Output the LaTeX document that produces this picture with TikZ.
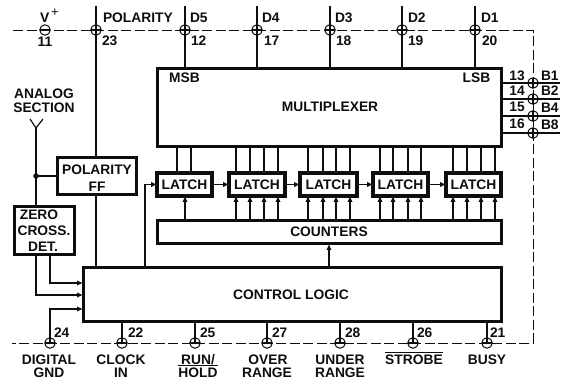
\documentclass[tikz,border=0pt]{standalone}
\usepackage{fontspec}
\setmainfont{Liberation Sans}
\usetikzlibrary{arrows.meta}
\definecolor{ink}{HTML}{0E0E0E}
\tikzset{
  x=1pt,y=-1pt,
  every node/.style={text=ink,font=\fontsize{13.8}{14}\selectfont\bfseries,inner sep=0pt,outer sep=0pt},
  box/.style={draw=ink,line width=3pt,fill=white,anchor=center},
  latchbox/.style={draw=ink,line width=3.4pt,fill=white,anchor=center},
  wire/.style={draw=ink,line width=1.2pt},
  awire/.style={wire,-{Latex[length=6pt,width=5.5pt]}},
  dashbound/.style={draw=ink,line width=0.9pt,dash pattern=on 10pt off 3.5pt},
  pinc/.style={circle,draw=ink,line width=1pt,minimum size=10.5pt,fill=white},
  lab/.style={anchor=center},
  labl/.style={anchor=west},
}
% name, x1, y1, x2, y2, text (edge-to-edge centre-line rectangle)
\newcommand{\blk}[7][box]{\node[#1,minimum width={(#4-#2)*1pt},minimum height={(#5-#3)*1pt}] (#6) at ({(#2+#4)/2},{(#3+#5)/2}) {#7};}
\newcommand{\pincross}[1]{\draw[wire] (#1.west) -- (#1.east);}
\newcommand{\barred}[1]{$\overline{\mbox{\rule{0pt}{10.6pt}#1}}$}
\begin{document}
\begin{tikzpicture}
\useasboundingbox[fill=white] (0,0) rectangle (566,379);
% dashed package outline
\coordinate (tl) at (13,30);
\coordinate (tr) at (533,30);
\coordinate (br) at (533,343);
\coordinate (bl) at (12,343);
\draw[dashbound] (tl) -- (tr) -- (br) -- (bl);
% blocks
\blk{157}{69}{501}{147}{mux}{}
\blk{157}{221}{501}{244}{cnt}{}
\blk{83}{268}{501}{322}{ctl}{}
\blk{57}{158}{136}{195}{pff}{}
\blk{14}{207}{74}{255}{zcd}{}
\blk[latchbox]{157}{173}{212}{196}{la}{LATCH}
\blk[latchbox]{229}{173}{285}{196}{lb}{LATCH}
\blk[latchbox]{300}{173}{357}{196}{lc}{LATCH}
\blk[latchbox]{373}{173}{428}{196}{ld}{LATCH}
\blk[latchbox]{446}{173}{501}{196}{le}{LATCH}
% block texts
\node[lab] (tmux) at (330,107) {MULTIPLEXER};
\node[lab] (tmsb) at (184.5,77.5) {MSB};
\node[lab] (tlsb) at (476.5,77.5) {LSB};
\node[lab] (tcnt) at (329,232) {COUNTERS};
\node[lab] (tctl) at (291,295) {CONTROL LOGIC};
\node[lab] (tpf1) at (97,170) {POLARITY};
\node[lab] (tpf2) at (97,187) {FF};
\node[lab] (tz1) at (39,215) {ZERO};
\node[lab] (tz2) at (44,231) {CROSS.};
\node[lab] (tz3) at (43,247) {DET.};
% top pins
\foreach \n/\x in {p23/96,p12/185,p17/257,p18/330,p19/402,p20/475}{
  \node[pinc] (\n) at (\x,30) {};
  \coordinate (\n t) at (\x,6);
}
\node[pinc] (p11) at (45,30) {};
\pincross{p11}
\foreach \n in {p23,p12,p17,p18,p19,p20}{\pincross{\n}}
\draw[wire] (p23t) -- (p23t |- pff.north);
\foreach \n in {p12,p17,p18,p19,p20}{\draw[wire] (\n t) -- (\n t |- mux.north);}
% right pins
\foreach \n/\y in {p13/83,p14/99,p15/116,p16/133}{
  \node[pinc] (\n) at (533,\y) {};
  \coordinate (\n e) at (560,\y);
  \draw[wire] (\n e) -- (\n e -| mux.east);
  \draw[wire] (\n.north) -- (\n.south);
}
% bottom pins
\foreach \n/\x in {p24/50,p22/122,p25/195,p27/267,p28/340,p26/413,p21/487}{
  \node[pinc] (\n) at (\x,343) {};
  \pincross{\n}
}
\foreach \n in {p22,p25,p27,p28,p26,p21}{\draw[wire] (\n.center) -- (\n.center |- ctl.south);}
\coordinate (c24) at (50,309);
\draw[awire] (p24.center) -- (c24) -- (c24 -| ctl.west);
% multiplexer to latches, counters to latches
\foreach \x in {177,191}{\draw[wire] (\x,0 |- mux.south) -- (\x,0 |- la.north);}
\foreach \l/\xa/\xb/\xc/\xd in {lb/236/250/264/278,lc/308/323/336/350,ld/380/393/408/421,le/453/467/481/495}{
  \foreach \x in {\xa,\xb,\xc,\xd}{
    \draw[wire] (\x,0 |- mux.south) -- (\x,0 |- \l.north);
    \draw[awire] (\x,0 |- cnt.north) -- (\x,0 |- \l.south);
  }
}
\draw[awire] (185,0 |- cnt.north) -- (185,0 |- la.south);
% latch chain
\draw[awire] (la.east) -- (lb.west);
\draw[awire] (lb.east) -- (lc.west);
\draw[awire] (lc.east) -- (ld.west);
\draw[awire] (ld.east) -- (le.west);
\coordinate (cl) at (145,184.5);
\draw[awire] (cl |- ctl.north) -- (cl) -- (la.west);
% control to counters, polarity to control
\draw[awire] (329,0 |- ctl.north) -- (329,0 |- cnt.south);
\draw[wire] (p23t |- pff.south) -- (p23t |- ctl.north);
% analog section
\coordinate (ya) at (30,119);
\coordinate (yb) at (43,119);
\coordinate (yc) at (36,128);
\draw[wire] (ya) -- (yc) -- (yb);
\draw[wire] (yc) -- (yc |- zcd.north);
\coordinate (jn) at (36,176);
\fill[ink] (jn) circle (2.8pt);
\draw[wire] (jn) -- (jn -| pff.west);
% zero cross to control
\coordinate (z1) at (36,295);
\coordinate (z2) at (50,283);
\draw[awire] (z1 |- zcd.south) -- (z1) -- (z1 -| ctl.west);
\draw[awire] (z2 |- zcd.south) -- (z2) -- (z2 -| ctl.west);
% pin labels top
\node[labl] (tv) at (40,18) {V};
\node[lab,font=\fontsize{13}{14}\selectfont] (tplus) at (55,13) {+};
\node[lab] (n11) at (45,42) {11};
\node[labl] (n23) at (102,41) {23};
\node[labl] (tpol) at (103,18) {POLARITY};
\foreach \t/\xa/\n/\xb in {D5/190/12/191,D4/262/17/264,D3/335/18/336,D2/408/19/408,D1/481/20/482}{
  \node[labl] at (\xa,18) {\t};
  \node[labl] at (\xb,41) {\n};
}
% pin labels right
\foreach \n/\yn/\b/\yb in {13/76/B1/76,14/91/B2/91,15/107/B4/108,16/124/B8/125}{
  \node[lab] at (517,\yn) {\n};
  \node[labl] at (541,\yb) {\b};
}
% pin labels bottom
\foreach \n/\x in {24/54,22/128,25/200,27/272,28/345,26/417,21/490}{
  \node[labl] at (\x,333) {\n};
}
\node[lab,anchor=base] (t1) at (49,364.5) {DIGITAL};
\node[lab,anchor=base] (t2) at (49,377.5) {GND};
\node[lab,anchor=base] (t3) at (121,364.5) {CLOCK};
\node[lab,anchor=base] (t4) at (121,377.5) {IN};
\node[lab,anchor=base] (t5) at (198,364.5) {RUN/};
\node[lab,anchor=base] (t6) at (198,377.5) {\barred{HOLD}};
\node[lab,anchor=base] (t7) at (268,364.5) {OVER};
\node[lab,anchor=base] (t8) at (267,377.5) {RANGE};
\node[lab,anchor=base] (t9) at (340,364.5) {UNDER};
\node[lab,anchor=base] (t10) at (340,377.5) {RANGE};
\node[lab,anchor=base] (t11) at (414,364.5) {\barred{STROBE}};
\node[lab,anchor=base] (t12) at (487,364.5) {BUSY};
\node[lab] (t13) at (44,93.5) {ANALOG};
\node[lab] (t14) at (44,108) {SECTION};
\end{tikzpicture}
\end{document}
